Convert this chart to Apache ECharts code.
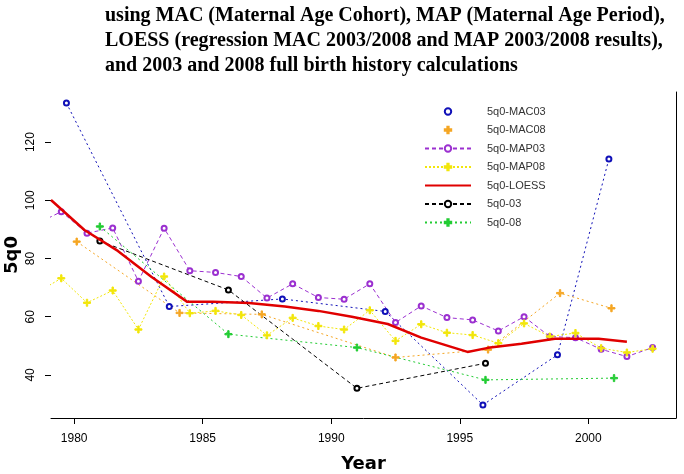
<!DOCTYPE html>
<html>
<head>
<meta charset="utf-8">
<script src="https://cdn.jsdelivr.net/npm/echarts@6/dist/echarts.min.js"></script>
<style>
  html, body { margin: 0; padding: 0; background: #fff; }
  #chart { width: 684px; height: 474px; }
</style>
</head>
<body>
<div id="chart"></div>
<script>
// values
const mac03Years = [1979.7, 1983.7, 1988.1, 1992.1, 1995.9, 1998.8, 2000.8]
const mac03Values = [133.4, 63.5, 66.1, 61.8, 29.7, 46.9, 114.2]

const mac08Years = [1980.1, 1984.1, 1987.3, 1992.5, 1996.1, 1998.9, 2000.9]
const mac08Values = [85.8, 61.3, 60.8, 46.0, 48.7, 68.1, 62.9]

const mapYears = [1978.5, 1979.5, 1980.5, 1981.5, 1982.5, 1983.5, 1984.5, 1985.5, 1986.5, 1987.5, 1988.5, 1989.5,
  1990.5, 1991.5, 1992.5, 1993.5, 1994.5, 1995.5, 1996.5, 1997.5, 1998.5, 1999.5, 2000.5, 2001.5, 2002.5]
const map03Values = [91.7, 96.1, 88.7, 90.5, 72.2, 90.4, 75.8, 75.2, 73.8, 66.4, 71.3, 66.6,
  66.0, 71.3, 58.0, 63.7, 59.7, 58.9, 55.1, 60.0, 53.2, 52.8, 48.8, 46.3, 49.4]
const map08Values = [68.0, 73.2, 64.8, 69.0, 55.6, 73.8, 61.2, 62.0, 60.6, 53.6, 59.6, 56.8,
  55.6, 62.2, 51.7, 57.4, 54.5, 53.7, 50.9, 57.7, 53.2, 54.4, 49.2, 47.7, 49.0]

const loessYears = [1979.1, 1980.4, 1981.7, 1983.0, 1984.4, 1985.4, 1986.8, 1988.2, 1989.5,
  1990.8, 1992.2, 1993.5, 1995.3, 1996.1, 1997.4, 1998.7, 2000.4, 2001.5]
const loessValues = [100.1, 89.8, 82.6, 73.7, 65.1, 65.1, 64.7, 63.5, 62.0,
  60.0, 57.5, 52.8, 47.9, 49.3, 50.7, 52.4, 52.4, 51.4]

const fbh03Years = [1981.0, 1986.0, 1991.0, 1996.0]
const fbh03Values = [86.0, 69.2, 35.4, 44.0]

const fbh08Years = [1981.0, 1986.0, 1991.0, 1996.0, 2001.0]
const fbh08Values = [91.0, 54.0, 49.4, 38.3, 38.9]

const xTicks = [1980, 1985, 1990, 1995, 2000]
const yTicks = [40, 60, 80, 100, 120]

const titleLines = [
  'using MAC (Maternal Age Cohort), MAP (Maternal Age Period),',
  'LOESS (regression MAC 2003/2008 and MAP 2003/2008 results),',
  'and 2003 and 2008 full birth history calculations'
]

const PLUS = 'path://M4,0H6V4H10V6H6V10H4V6H0V4H4Z'

function pairs(xs, ys) {
  return xs.map((x, i) => [x, ys[i]])
}

function lineSeries(name, xs, ys, color, dash, symbol, width) {
  return {
    name: name,
    type: 'line',
    data: pairs(xs, ys),
    symbol: symbol || 'none',
    symbolSize: symbol === PLUS ? 7 : 5,
    showSymbol: !!symbol,
    lineStyle: { color: color, width: width || 1, type: dash },
    itemStyle: { color: color, borderColor: color, borderWidth: 1 },
    emphasis: { disabled: true },
    animation: false
  }
}

const chart = echarts.init(document.getElementById('chart'))

chart.setOption({
  backgroundColor: '#fff',
  title: {
    text: titleLines.join('\n'),
    left: 100,
    top: -2,
    textStyle: {
      fontFamily: 'Liberation Serif',
      fontWeight: 'bold',
      fontSize: 20,
      lineHeight: 25,
      color: '#000'
    }
  },
  legend: {
    orient: 'vertical',
    left: 419,
    top: 101,
    itemWidth: 46,
    itemHeight: 8,
    itemGap: 7.5,
    textStyle: { fontFamily: 'Liberation Sans', fontSize: 11, color: '#333', padding: [0, 0, 0, 11] },
    data: [
      { name: '5q0-MAC03', lineStyle: { opacity: 0 } },
      { name: '5q0-MAC08', lineStyle: { opacity: 0 } },
      { name: '5q0-MAP03' },
      { name: '5q0-MAP08' },
      { name: '5q0-LOESS', itemStyle: { opacity: 0 } },
      { name: '5q0-03' },
      { name: '5q0-08' }
    ]
  },
  grid: { left: 51, right: 8, top: 92, bottom: 56, containLabel: false, outerBoundsMode: 'none' },
  xAxis: {
    type: 'value',
    min: 1979.1,
    max: 2003.41,
    name: 'Year',
    nameLocation: 'middle',
    nameGap: 37,
    nameTextStyle: { fontFamily: 'DejaVu Sans', fontWeight: 'bold', fontSize: 18, color: '#000' },
    axisLine: { show: true, lineStyle: { color: '#000', width: 1 } },
    axisTick: { show: true, length: 6, customValues: xTicks, lineStyle: { color: '#000' } },
    axisLabel: {
      customValues: xTicks,
      margin: 15,
      fontFamily: 'Liberation Sans',
      fontSize: 12,
      color: '#000',
      formatter: v => String(v)
    },
    splitLine: { show: false }
  },
  yAxis: [
    {
      type: 'value',
      min: 25.2,
      max: 137.2,
      name: '5q0',
      nameLocation: 'middle',
      nameGap: 30,
      nameMoveOverlap: false,
      nameTextStyle: { fontFamily: 'DejaVu Sans', fontWeight: 'bold', fontSize: 18, color: '#000' },
      axisLine: { show: false },
      axisTick: { show: true, length: 6, customValues: yTicks, lineStyle: { color: '#000' } },
      axisLabel: { customValues: yTicks, rotate: 90, margin: 14, fontFamily: 'Liberation Sans', fontSize: 12, color: '#000' },
      splitLine: { show: false }
    },
    {
      type: 'value',
      position: 'right',
      min: 25.2,
      max: 137.2,
      axisLine: { show: true, lineStyle: { color: '#000', width: 1 } },
      axisTick: { show: false },
      axisLabel: { show: false },
      splitLine: { show: false }
    }
  ],
  series: [
    lineSeries('5q0-MAC03', mac03Years, mac03Values, '#1010b8', [2, 3], 'emptyCircle'),
    lineSeries('5q0-MAC08', mac08Years, mac08Values, '#f5a623', [2, 3], PLUS),
    lineSeries('5q0-MAP03', mapYears, map03Values, '#9b30d0', [4, 3], 'emptyCircle'),
    lineSeries('5q0-MAP08', mapYears, map08Values, '#f2e60a', [2, 2], PLUS),
    lineSeries('5q0-03', fbh03Years, fbh03Values, '#000', [4, 3], 'emptyCircle'),
    lineSeries('5q0-08', fbh08Years, fbh08Values, '#22cc33', [2, 3], PLUS),
    Object.assign(lineSeries('5q0-LOESS', loessYears, loessValues, '#e00000', 'solid', null, 2.5), { z: 5 })
  ]
})
</script>
</body>
</html>
